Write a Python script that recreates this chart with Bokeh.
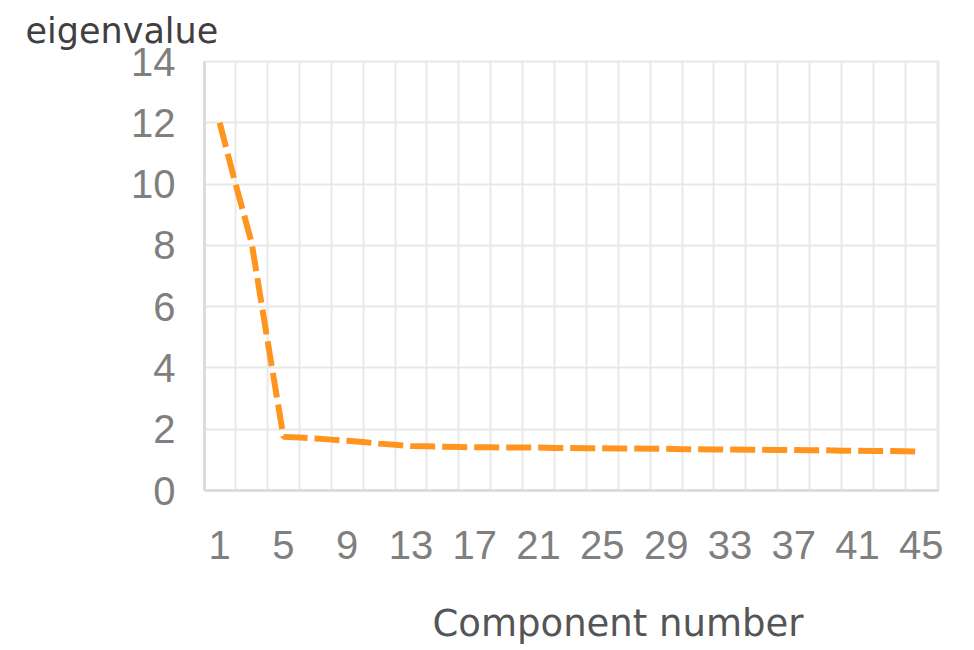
from bokeh.plotting import figure
from bokeh.models import Range1d, FixedTicker, Title
from bokeh.embed import file_html
from bokeh.resources import INLINE

# Data
components = list(range(1, 46))
eigenvalues = [12.0, 10.0, 8.1, 4.9, 1.75, 1.73, 1.70, 1.66, 1.62, 1.58,
               1.53, 1.49, 1.45, 1.44, 1.43, 1.42, 1.41, 1.41, 1.40, 1.40,
               1.40, 1.39, 1.39, 1.38, 1.38, 1.37, 1.37, 1.36, 1.36, 1.35,
               1.35, 1.34, 1.34, 1.33, 1.33, 1.32, 1.32, 1.31, 1.31, 1.30,
               1.30, 1.29, 1.29, 1.28, 1.27]
x_tick_values = list(range(1, 46, 4))
y_tick_values = list(range(0, 15, 2))
x_grid_values = list(range(0, 47, 2))

p = figure(width=966, height=650, output_backend="svg", toolbar_location=None,
           x_range=Range1d(0.05, 46.08), y_range=Range1d(0, 14),
           min_border_left=204, min_border_right=28, min_border_top=61,
           min_border_bottom=160)

p.background_fill_color = "white"
p.border_fill_color = "white"
p.outline_line_color = "#e8e8e8"
p.outline_line_width = 2

p.line(components, eigenvalues, line_color="#FF951F", line_width=6,
       line_dash="25 7")

# Title (top-left, horizontal)
p.title.text = "eigenvalue"
p.title.align = "left"
p.title.vertical_align = "top"
p.title.offset = -179
p.title.text_font = "DejaVu Sans"
p.title.text_font_size = "35px"
p.title.text_font_style = "normal"
p.title.text_color = "#404040"
p.title.standoff = 18

# Axes
label_font = "Liberation Sans"
for ax in (p.xaxis[0], p.yaxis[0]):
    ax.major_tick_line_color = None
    ax.minor_tick_line_color = None
    ax.major_tick_in = 0
    ax.major_tick_out = 0
    ax.axis_line_color = "#d9d9d9"
    ax.axis_line_width = 2.5
    ax.major_label_text_font = label_font
    ax.major_label_text_font_size = "40px"
    ax.major_label_text_color = "#7f7f7f"

p.xaxis.ticker = FixedTicker(ticks=x_tick_values)
p.yaxis.ticker = FixedTicker(ticks=y_tick_values)
p.xaxis.major_label_standoff = 40
p.yaxis.major_label_standoff = 29

# x-axis title, placed to the right of centre and lower, as in the original
x_title = Title(text="\nComponent number", align="left", offset=228,
                vertical_align="top", text_line_height=0.95,
                text_font="DejaVu Sans", text_font_size="37px",
                text_font_style="normal", text_color="#555555", standoff=0)
p.add_layout(x_title, "below")

p.xgrid.ticker = FixedTicker(ticks=x_grid_values)
p.xgrid.grid_line_color = "#e8e8e8"
p.xgrid.grid_line_width = 2
p.ygrid.grid_line_color = "#e8e8e8"
p.ygrid.grid_line_width = 2

open("out.html", "w").write(file_html(p, INLINE))
